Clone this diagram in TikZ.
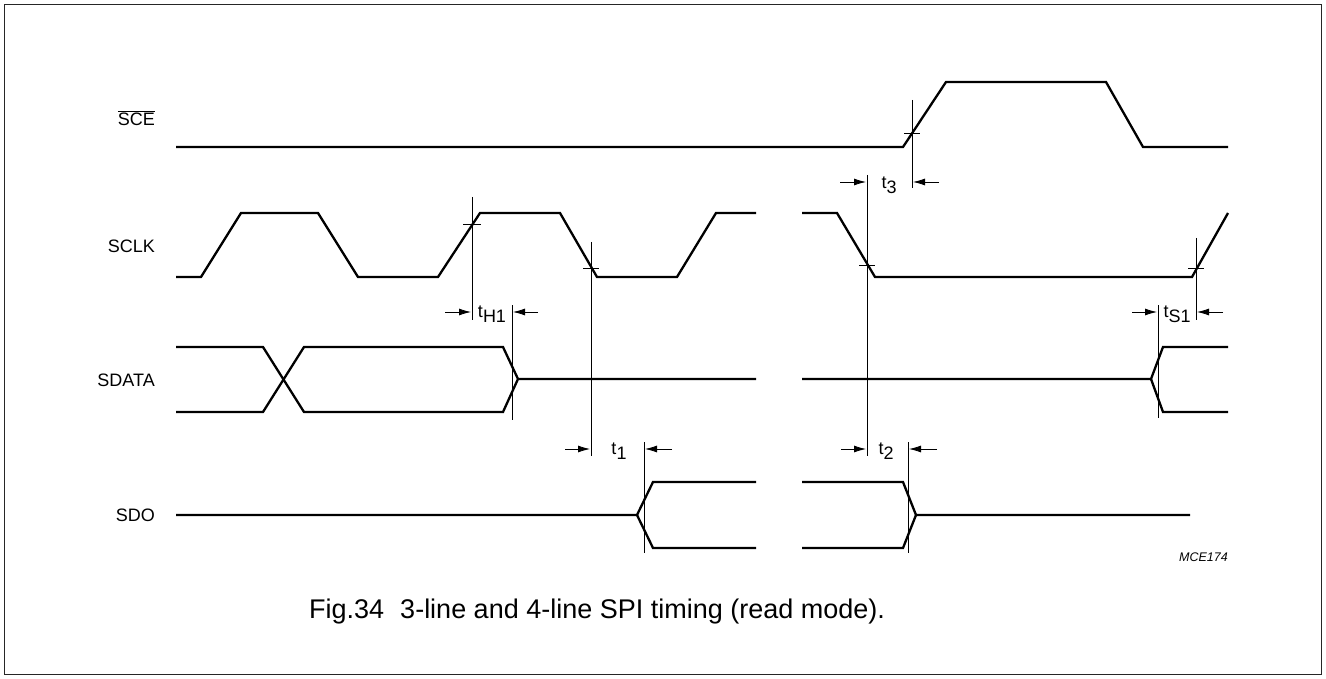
\documentclass[tikz,border=0pt]{standalone}
\usepackage{fontspec}
\setmainfont{Liberation Sans}
\usetikzlibrary{arrows.meta}
\begin{document}
\begin{tikzpicture}[x=1pt,y=-1pt,
  sig/.style={line width=2.3pt, line join=miter},
  thin/.style={line width=0.8pt},
  dimarrow/.style={line width=0.8pt, -{Latex[length=12pt,width=7pt]}},
  lbl/.style={anchor=east, inner sep=0pt, font=\fontsize{18}{21}\selectfont},
  tlbl/.style={inner sep=0pt, font=\fontsize{18}{21}\selectfont}]
\useasboundingbox (0,0) rectangle (1326,679);
\draw[line width=1.4pt, black!85] (4.5,4.5) rectangle (1321.5,674.5);

% signal labels
\node[lbl] (lsce) at (155,118) {$\overline{\hbox{SCE}}$};
\node[lbl] (lsclk) at (155,246) {SCLK};
\node[lbl] (lsdata) at (155,380) {SDATA};
\node[lbl] (lsdo) at (155,515) {SDO};

% SCE
\draw[sig] (176,147) -- (903,147) -- (946,82) -- (1106,82) -- (1143,147) -- (1228,147);

% SCLK
\draw[sig] (176,277) -- (201,277) -- (241,213) -- (318,213) -- (358,277) -- (438,277)
  -- (480,213) -- (560,213) -- (597,277) -- (677,277) -- (716,213) -- (756,213);
\draw[sig] (802,213) -- (837,213) -- (875,277) -- (1192,277) -- (1228,213);

% SDATA
\draw[sig] (176,347) -- (263,347) -- (304,412) -- (503,412) -- (518,379) -- (756,379);
\draw[sig] (176,412) -- (263,412) -- (304,347) -- (503,347) -- (518,379);
\draw[sig] (802,379) -- (1151,379) -- (1163,347) -- (1228,347);
\draw[sig] (1151,379) -- (1163,412) -- (1228,412);

% SDO
\draw[sig] (176,515) -- (637,515) -- (653,482) -- (756,482);
\draw[sig] (637,515) -- (653,548) -- (756,548);
\draw[sig] (802,482) -- (903,482) -- (916,515) -- (1190,515);
\draw[sig] (802,548) -- (903,548) -- (916,515);

% t3
\draw[thin] (912,100) -- (912,188);
\draw[thin] (904,133) -- (920,133);
\draw[thin] (867,175) -- (867,456);
\draw[thin] (859,265) -- (875,265);
\draw[dimarrow] (840,182) -- (866,182);
\draw[dimarrow] (939,182) -- (913,182);
\node[tlbl] (t3) at (889,185) {t\raisebox{-0.5ex}{3}};

% tH1
\draw[thin] (472,197) -- (472,320);
\draw[thin] (463,224) -- (481,224);
\draw[thin] (512,305) -- (512,420);
\draw[dimarrow] (445,312) -- (471,312);
\draw[dimarrow] (538,312) -- (513,312);
\node[tlbl] (th1) at (492,314) {t\raisebox{-0.5ex}{H1}};

% t1
\draw[thin] (591,242) -- (591,456);
\draw[thin] (583,268) -- (599,268);
\draw[thin] (644,442) -- (644,553);
\draw[dimarrow] (565,449) -- (590,449);
\draw[dimarrow] (672,449) -- (645,449);
\node[tlbl] (t1) at (619,451) {t\raisebox{-0.5ex}{1}};

% t2
\draw[thin] (908,442) -- (908,553);
\draw[dimarrow] (841,449) -- (866,449);
\draw[dimarrow] (937,449) -- (909,449);
\node[tlbl] (t2) at (886,451) {t\raisebox{-0.5ex}{2}};

% tS1
\draw[thin] (1196,238) -- (1196,320);
\draw[thin] (1188,268) -- (1204,268);
\draw[thin] (1158,305) -- (1158,418);
\draw[dimarrow] (1132,312) -- (1157,312);
\draw[dimarrow] (1223,312) -- (1197,312);
\node[tlbl] (ts1) at (1177,314) {t\raisebox{-0.5ex}{S1}};

% id + caption
\node[anchor=east, inner sep=0pt, font=\fontsize{12.5}{14}\selectfont\itshape] (id) at (1228,557) {MCE174};
\node[inner sep=0pt, font=\fontsize{27}{31}\selectfont] (cap) at (597,612) {Fig.34\hspace{0.6em}3-line and 4-line SPI timing (read mode).};
\end{tikzpicture}
\end{document}
